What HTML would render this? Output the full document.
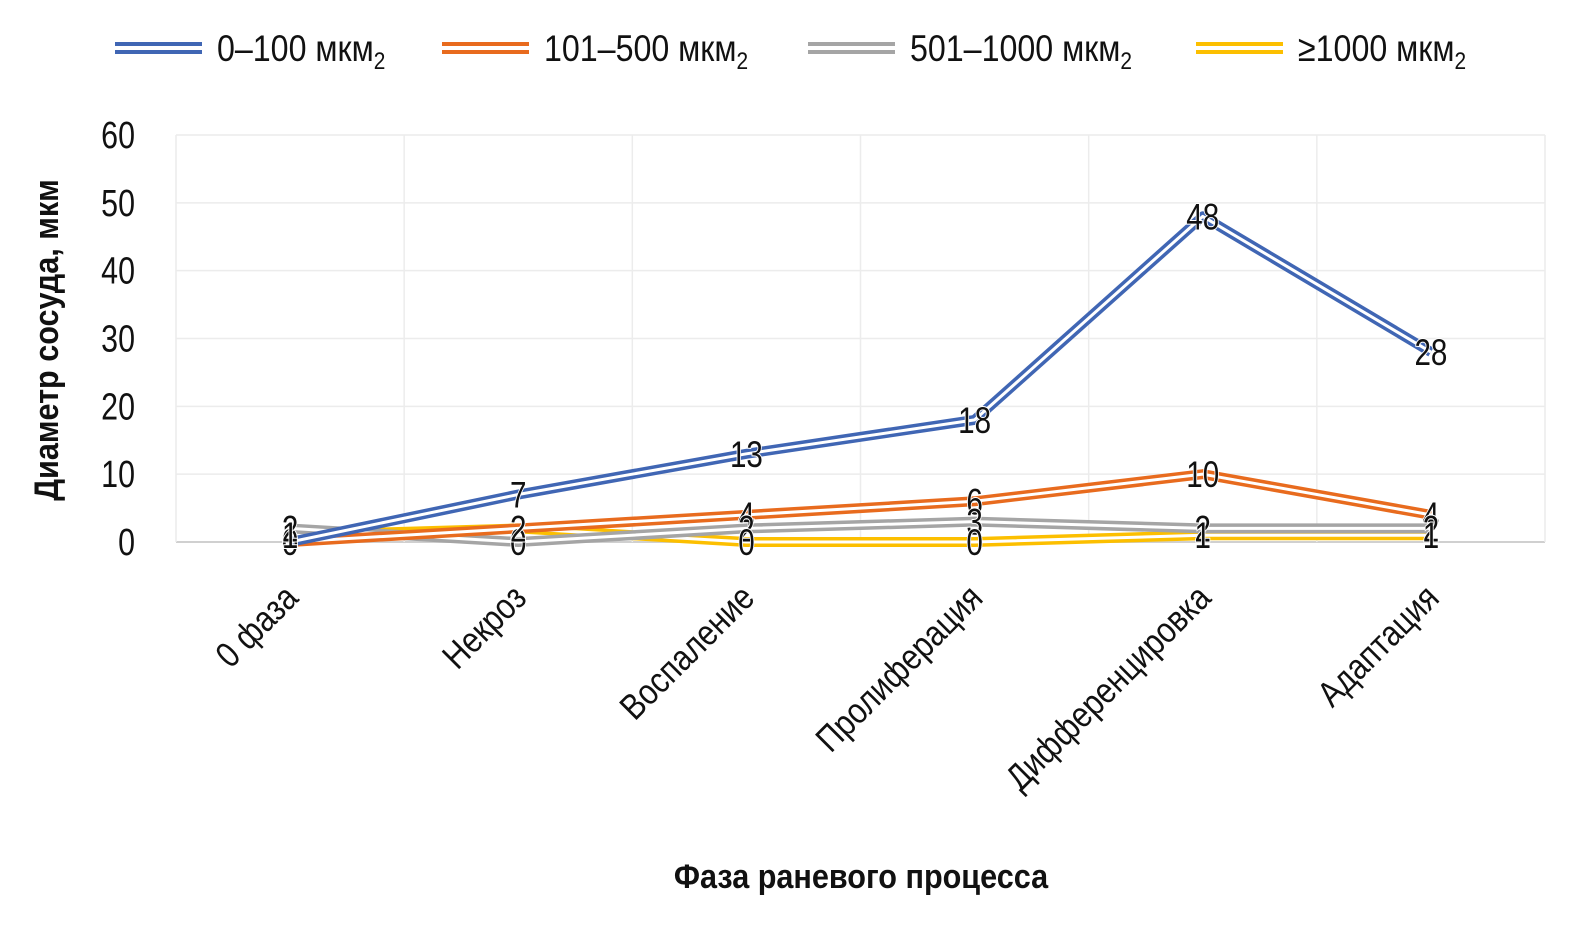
<!DOCTYPE html>
<html><head><meta charset="utf-8">
<style>
html,body{margin:0;padding:0;background:#fff;}
svg{display:block;}
text{font-family:"Liberation Sans Narrow","Liberation Sans",sans-serif;fill:#111;}
</style></head>
<body>
<svg id="chart" width="1594" height="933" viewBox="0 0 1594 933"></svg>
<script>
const categories = ["0 фаза","Некроз","Воспаление","Пролиферация","Дифференцировка","Адаптация"];
const s0_100 = [0,7,13,18,48,28];
const s101_500 = [0,2,4,6,10,4];
const s501_1000 = [2,0,2,3,2,2];
const s1000 = [1,2,0,0,1,1];
const yTicks = [0,10,20,30,40,50,60];
const seriesNames = ["0–100 мкм","101–500 мкм","501–1000 мкм","≥1000 мкм"];
const seriesColors = ["#4066b4","#e86b1e","#a5a5a5","#fcbf00"];

const svg = document.getElementById('chart');
const NS = 'http://www.w3.org/2000/svg';
const plotL = 176, plotR = 1545, plotT = 135, plotB = 542;
const yMax = 60;
function yScale(v){ return plotB - v/yMax*(plotB-plotT); }
const step = (plotR-plotL)/categories.length;
function xScale(i){ return plotL + step*(i+0.5); }
function mk(tag, attrs){ const e=document.createElementNS(NS,tag); for(const k in attrs) e.setAttribute(k,attrs[k]); svg.appendChild(e); return e; }
function ctext(x,y,extra,rot,sx){ const a=Object.assign({x:0,y:0,transform:`translate(${x} ${y})${rot?` rotate(${rot})`:''} scale(${sx||0.8} 1)`},extra); return mk('text',a); }

// grid
yTicks.forEach(t=>{
  const g = mk('line',{x1:plotL,x2:plotR,y1:yScale(t),y2:yScale(t),stroke:t===0?'#d0d0d0':'#ececec','stroke-width':t===0?2:1.5});
  
  
  const lb = ctext(135,yScale(t)+13,{'font-size':38,'text-anchor':'end'});
  lb.textContent = t;
  
  
});
for(let i=0;i<=categories.length;i++){
  const x = plotL+step*i;
  const g = mk('line',{x1:x,x2:x,y1:plotT,y2:plotB,stroke:'#ececec','stroke-width':1.5});
  
  
}
categories.forEach((c,i)=>{
  const x = xScale(i);
  const t = ctext(x+10,600,{'font-size':36,'text-anchor':'end'},-45,0.85);
  t.textContent = c;
  
  
});

const allSeries = [s0_100, s101_500, s501_1000, s1000];
[3,2,1,0].forEach(si=>{
  const d = allSeries[si].map((v,i)=>(i?'L':'M')+xScale(i)+' '+yScale(v)).join(' ');
  const p1 = mk('path',{d:d,fill:'none',stroke:seriesColors[si],'stroke-width':10,'stroke-linejoin':'round'});
  
  
  const p2 = mk('path',{d:d,fill:'none',stroke:'#fff','stroke-width':3,'stroke-linejoin':'round'});
  
  
});
allSeries.forEach((s,si)=>{
  s.forEach((v,i)=>{
    const t = ctext(xScale(i),yScale(v)+13,{'font-size':37,'text-anchor':'middle',stroke:'#fff','stroke-width':2,'paint-order':'stroke'});
    t.textContent = v;
    
    
  });
});

// legend
const legX = [115,442,808,1196];
seriesNames.forEach((n,i)=>{
  const x = legX[i];
  const a = mk('line',{x1:x,x2:x+87,y1:44,y2:44,stroke:seriesColors[i],'stroke-width':4});
  
  
  const b = mk('line',{x1:x,x2:x+87,y1:52,y2:52,stroke:seriesColors[i],'stroke-width':4});
  
  
  const t = ctext(x+102,61,{'font-size':37},0,0.87);
  
  
  t.textContent = n;
  const sub = document.createElementNS(NS,'tspan');
  sub.setAttribute('font-size','24');
  sub.setAttribute('dy','8');
  sub.textContent='2';
  t.appendChild(sub);
});

const yt = mk('text',{x:0,y:0,'font-size':34,'font-weight':'bold','text-anchor':'middle',transform:'translate(58 340) rotate(-90) scale(0.9 1)'});
yt.textContent='Диаметр сосуда, мкм';


const xt = mk('text',{x:0,y:0,'font-size':34,'font-weight':'bold','text-anchor':'middle',transform:'translate(861 888) scale(0.9 1)'});
xt.textContent='Фаза раневого процесса';


</script>
</body></html>
